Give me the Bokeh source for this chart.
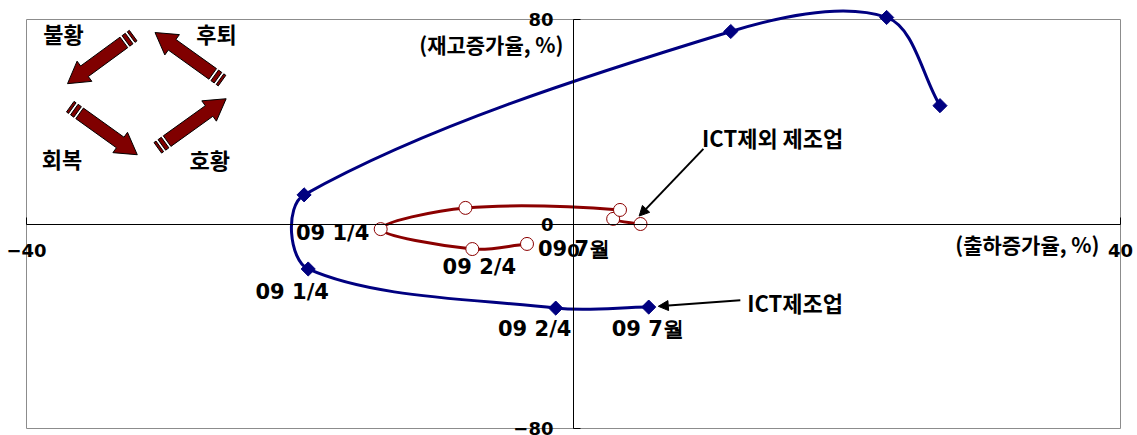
import math
from bokeh.plotting import figure
from bokeh.models import Range1d, LinearAxis, FixedTicker, Arrow, NormalHead, ColumnDataSource
from bokeh.core.properties import value
from bokeh.embed import file_html
from bokeh.resources import INLINE

# ---------------- data ----------------
periods = ["08 1/4", "08 2/4", "08 3/4", "08 4/4", "09 1/4", "09 2/4", "09 7월"]
ict_shipment = [26.8, 22.9, 11.5, -19.7, -19.4, -1.3, 5.5]        # 출하증가율 (ICT제조업)
ict_inventory = [46.3, 80.8, 75.3, 11.4, -17.6, -32.9, -32.5]     # 재고증가율 (ICT제조업)
nonict_shipment = [4.9, 2.9, 3.4, -7.9, -14.1, -7.4, -3.4]        # 출하증가율 (ICT제외 제조업)
nonict_inventory = [0.0, 2.0, 5.5, 6.3, -2.0, -9.8, -7.8]         # 재고증가율 (ICT제외 제조업)
labelled_idx = [4, 5, 6]
x_ticks = [-40, 0, 40]
y_ticks = [-80, 0, 80]
phase_labels = ["불황", "후퇴", "회복", "호황"]

# ---------------- layout / style ----------------
W, H = 1137, 435
# plot box (axis extent) inside the canvas, in pixels
BOX_L, BOX_R, BOX_T, BOX_B = 26, 1120, 19, 428
XB, YB = (-40, 40), (-80, 80)
SX = (BOX_R - BOX_L) / (XB[1] - XB[0])
SY = (BOX_B - BOX_T) / (YB[1] - YB[0])
x_range = Range1d(XB[0] - BOX_L / SX, XB[1] + (W - BOX_R) / SX)
y_range = Range1d(YB[0] - (H - BOX_B) / SY, YB[1] + BOX_T / SY)

BLUE = "#000080"
RED = "#8B0000"
ARROW_RED = "#800000"
NUM_FONT = "DejaVu Sans"
KR_FONT = "Noto Sans CJK KR"

p = figure(width=W, height=H, x_range=x_range, y_range=y_range,
           output_backend="svg", toolbar_location=None,
           x_axis_location=None, y_axis_location=None,
           min_border_left=0, min_border_right=0, min_border_top=0, min_border_bottom=0,
           background_fill_color="white", border_fill_color="white")
p.xgrid.visible = False
p.ygrid.visible = False
p.outline_line_color = None

# plot box border
p.quad(left=[XB[0]], right=[XB[1]], bottom=[YB[0]], top=[YB[1]],
       fill_color=None, line_color="#8c8c8c", line_width=1, level="underlay")


def style_axis(ax, ticks, bounds):
    ax.ticker = FixedTicker(ticks=ticks)
    ax.bounds = bounds
    ax.fixed_location = 0
    ax.axis_line_color = "black"
    ax.axis_line_width = 1
    ax.major_tick_in = 7
    ax.major_tick_out = 0
    ax.major_tick_line_color = "black"
    ax.minor_tick_in = 0
    ax.minor_tick_out = 0
    ax.major_label_text_font = NUM_FONT
    ax.major_label_text_font_style = "bold"
    ax.major_label_text_font_size = "18px"
    ax.major_label_text_color = "black"
    ax.major_label_standoff = 20


xaxis = LinearAxis()
style_axis(xaxis, x_ticks, XB)
p.add_layout(xaxis, "below")
yaxis = LinearAxis()
style_axis(yaxis, y_ticks, YB)
p.add_layout(yaxis, "left")


# smooth curve through the points (chord-weighted cubic Bezier segments)
def smooth(xs, ys):
    n = len(xs)

    def dist(a, b):
        if a < 0 or b >= n:
            return 0.0
        return math.hypot((xs[b] - xs[a]) * SX, (ys[b] - ys[a]) * SY)

    def tangent(k):
        a, b = max(k - 1, 0), min(k + 1, n - 1)
        return xs[b] - xs[a], ys[b] - ys[a]

    seg = dict(x0=[], y0=[], x1=[], y1=[], cx0=[], cy0=[], cx1=[], cy1=[])
    for i in range(n - 1):
        j = i + 1
        ti = tangent(i)
        dp, dn = dist(i - 1, i), dist(i, j)
        wi = dn / (dp + dn) / 3
        tj = tangent(j)
        dp2, dn2 = dist(i, j), dist(j, j + 1)
        wj = dp2 / (dp2 + dn2) / 3
        seg["x0"].append(xs[i]); seg["y0"].append(ys[i])
        seg["x1"].append(xs[j]); seg["y1"].append(ys[j])
        seg["cx0"].append(xs[i] + ti[0] * wi); seg["cy0"].append(ys[i] + ti[1] * wi)
        seg["cx1"].append(xs[j] - tj[0] * wj); seg["cy1"].append(ys[j] - tj[1] * wj)
    return ColumnDataSource(seg)


# ICT제외 제조업 (red)
p.bezier(x0="x0", y0="y0", x1="x1", y1="y1", cx0="cx0", cy0="cy0", cx1="cx1", cy1="cy1",
         source=smooth(nonict_shipment, nonict_inventory), line_color=RED, line_width=3,
         line_cap="round")
p.scatter(nonict_shipment, nonict_inventory, marker="circle", size=13,
          fill_color="white", line_color=RED, line_width=1)

# ICT제조업 (blue)
p.bezier(x0="x0", y0="y0", x1="x1", y1="y1", cx0="cx0", cy0="cy0", cx1="cx1", cy1="cy1",
         source=smooth(ict_shipment, ict_inventory), line_color=BLUE, line_width=3,
         line_cap="round")
p.scatter(ict_shipment, ict_inventory, marker="square", angle=math.pi / 4, size=10,
          fill_color=BLUE, line_color=BLUE)

# point labels
blue_dx, blue_dy = [-16, -21, -1], [23, 21, 22]
red_dx, red_dy = [-48, 7, 47], [4, 18, 5]
for xs, ys, dx, dy in ((ict_shipment, ict_inventory, blue_dx, blue_dy),
                       (nonict_shipment, nonict_inventory, red_dx, red_dy)):
    src = ColumnDataSource(dict(x=[xs[i] for i in labelled_idx], y=[ys[i] for i in labelled_idx],
                                t=[periods[i] for i in labelled_idx], dx=dx, dy=dy))
    p.text(x="x", y="y", text="t", x_offset="dx", y_offset="dy", source=src,
           text_font=value(NUM_FONT), text_font_style="bold", text_font_size="21px",
           text_color="black", text_align="center", text_baseline="middle")

# axis titles
p.text(x=[0], y=[YB[1]], text=["(재고증가율, %)"], x_offset=-10, y_offset=24,
       text_font=value(KR_FONT), text_font_style="bold", text_font_size="21px",
       text_align="right", text_baseline="middle", text_color="black")
p.text(x=[XB[1]], y=[0], text=["(출하증가율, %)"], x_offset=-21, y_offset=20,
       text_font=value(KR_FONT), text_font_style="bold", text_font_size="21px",
       text_align="right", text_baseline="middle", text_color="black")

# series annotations
p.text(x=[9.4], y=[34.1], text=["ICT제외 제조업"], text_font=value(KR_FONT),
       text_font_style="bold", text_font_size="22px", text_align="left",
       text_baseline="middle", text_color="black")
p.add_layout(Arrow(end=NormalHead(size=10, fill_color="black", line_color="black"),
                   x_start=9.5, y_start=29.4, x_end=4.8, y_end=3.1,
                   line_color="black", line_width=2))
p.text(x=[12.7], y=[-30.6], text=["ICT제조업"], text_font=value(KR_FONT),
       text_font_style="bold", text_font_size="22px", text_align="left",
       text_baseline="middle", text_color="black")
p.add_layout(Arrow(end=NormalHead(size=10, fill_color="black", line_color="black"),
                   x_start=12.2, y_start=-29.8, x_end=6.2, y_end=-32.2,
                   line_color="black", line_width=2))

# business-cycle diagram (top-left)
phase_x = [-37.3, -26.1, -37.4, -26.6]
phase_y = [74.9, 74.9, 25.9, 25.5]
p.text(x=phase_x, y=phase_y, text=phase_labels, text_font=value(KR_FONT),
       text_font_style="bold", text_font_size="22px", text_align="center",
       text_baseline="middle", text_color="black")

cycle_arrows = [((-32.2, 73.7), (-37.0, 54.9)),
                ((-25.7, 56.1), (-30.6, 74.9)),
                ((-36.8, 45.9), (-31.9, 27.1)),
                ((-30.4, 29.8), (-25.4, 49.0))]


def block_arrow(tail, tip, h=6.5, head_h=12.5, head_l=21):
    tx, ty = tail[0] * SX, tail[1] * SY
    ex, ey = tip[0] * SX, tip[1] * SY
    L = math.hypot(ex - tx, ey - ty)
    ux, uy = (ex - tx) / L, (ey - ty) / L
    vx, vy = -uy, ux

    def pt(u, v):
        return (tx + ux * u + vx * v) / SX, (ty + uy * u + vy * v) / SY

    polys = [
        [pt(0, -h), pt(2.5, -h), pt(2.5, h), pt(0, h)],
        [pt(5, -h), pt(9, -h), pt(9, h), pt(5, h)],
        [pt(11.5, -h), pt(L - head_l, -h), pt(L - head_l, -head_h), pt(L, 0),
         pt(L - head_l, head_h), pt(L - head_l, h), pt(11.5, h)],
    ]
    return [[q[0] for q in poly] for poly in polys], [[q[1] for q in poly] for poly in polys]


axs, ays = [], []
for tail, tip in cycle_arrows:
    a, b = block_arrow(tail, tip)
    axs += a
    ays += b
p.patches(axs, ays, fill_color=ARROW_RED, line_color="black", line_width=1)

open("out.html", "w").write(file_html(p, INLINE))
